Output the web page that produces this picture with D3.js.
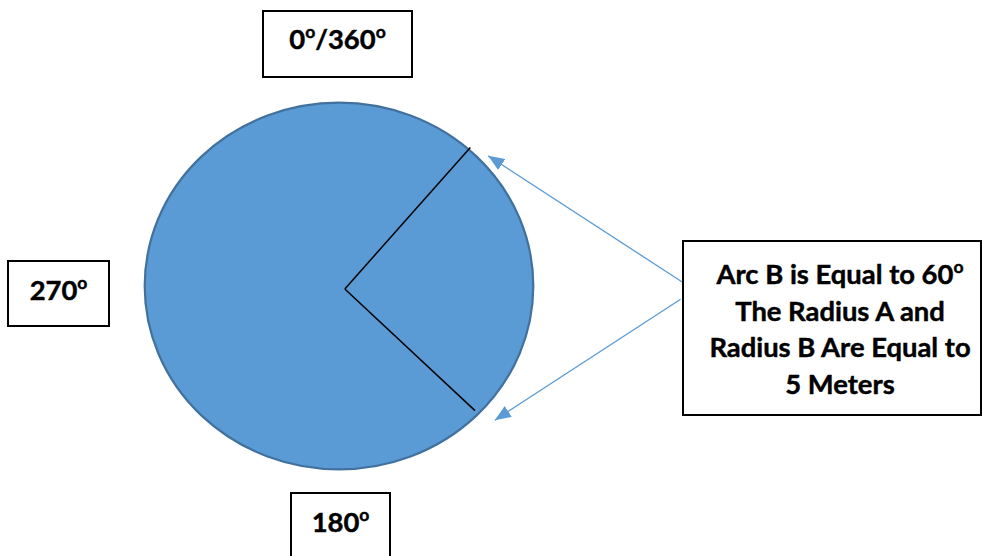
<!DOCTYPE html>
<html>
<head>
<meta charset="utf-8">
<script src="https://cdn.jsdelivr.net/npm/d3@7"></script>
<style>
  html, body { margin: 0; padding: 0; background: #ffffff; }
  svg { display: block; }
</style>
</head>
<body>
<div id="chart"></div>
<script>
// ---------- data ----------
const radiusMeters = 5;                        // circle radius (m)
const arcDegrees = 60;                         // arc B
const angleLabels = ["0°/360°", "270°", "180°"];
const noteLines = ["Arc B is Equal to 60°", "The Radius A and", "Radius B Are Equal to", "5 Meters"];
// radius segments, in metres from the circle centre
const radiusVertex = [0.15, -0.08];
const radiusEnds = [[3.38, 3.78], [3.50, -3.40]];
// pointer arrows (start near note box -> tip near arc end), metres
const arrowStarts = [[8.99, 0.0], [8.79, -0.36]];
const arrowTips = [[3.84, 3.55], [4.01, -3.66]];

// ---------- layout ----------
const W = 982, H = 556;
const cx = 339, cy = 286, rx = 194.3, ry = 183.3;
const x = d3.scaleLinear().domain([-radiusMeters, radiusMeters]).range([cx - rx, cx + rx]);
const y = d3.scaleLinear().domain([-radiusMeters, radiusMeters]).range([cy + ry, cy - ry]);

const FONT = "Lato, 'Open Sans', 'DejaVu Sans', sans-serif";
const FS = 27.4;
const blue = "#5B9BD5";

const svg = d3.select("#chart").append("svg")
  .attr("width", W).attr("height", H)
  .attr("viewBox", `0 0 ${W} ${H}`);

const defs = svg.append("defs");
defs.append("marker")
  .attr("id", "arrowhead")
  .attr("viewBox", "0 0 10 10")
  .attr("refX", 10).attr("refY", 5)
  .attr("markerUnits", "userSpaceOnUse")
  .attr("markerWidth", 16).attr("markerHeight", 13)
  .attr("preserveAspectRatio", "none")
  .attr("orient", "auto")
  .append("path")
  .attr("d", "M0,0 L10,5 L0,10 Z")
  .attr("fill", blue);

// circle (drawn as ellipse through the scales)
svg.append("ellipse")
  .attr("cx", x(0)).attr("cy", y(0))
  .attr("rx", x(radiusMeters) - x(0))
  .attr("ry", y(0) - y(radiusMeters))
  .attr("fill", blue)
  .attr("stroke", "#41719C")
  .attr("stroke-width", 2.2);

// radius A and B
svg.selectAll("line.radius")
  .data(radiusEnds)
  .join("line")
  .attr("class", "radius")
  .attr("x1", x(radiusVertex[0])).attr("y1", y(radiusVertex[1]))
  .attr("x2", d => x(d[0])).attr("y2", d => y(d[1]))
  .attr("stroke", "#000")
  .attr("stroke-width", 1.5);

// pointer arrows
svg.selectAll("line.arrow")
  .data(d3.zip(arrowStarts, arrowTips))
  .join("line")
  .attr("class", "arrow")
  .attr("x1", d => x(d[0][0])).attr("y1", d => y(d[0][1]))
  .attr("x2", d => x(d[1][0])).attr("y2", d => y(d[1][1]))
  .attr("stroke", blue)
  .attr("stroke-width", 1.3)
  .attr("marker-end", "url(#arrowhead)");

// helper: write text with "°" as a superscript "o"
function writeDeg(textSel, str) {
  const parts = str.split("°");
  const up = FS * 0.40;
  let pending = 0;
  parts.forEach((p, i) => {
    if (p.length) {
      const ts = textSel.append("tspan").text(p);
      if (pending) { ts.attr("dy", pending); pending = 0; }
    }
    if (i < parts.length - 1) {
      textSel.append("tspan")
        .attr("font-size", FS * 0.64)
        .attr("dy", -up + pending)
        .text("o");
      pending = up;
    }
  });
}

function styleText(t) {
  return t.attr("text-anchor", "middle")
    .attr("font-family", FONT).attr("font-weight", 700).attr("font-size", FS)
    .attr("fill", "#000")
    .attr("stroke", "#000").attr("stroke-width", 0.45)
    .attr("stroke-linejoin", "round");
}

// angle label boxes
const boxes = [
  { x: 263, y: 11, w: 149, h: 66, base: 48.7 },
  { x: 8, y: 261, w: 101, h: 65, base: 300 },
  { x: 291, y: 493, w: 99, h: 80, base: 531.5 }
];
angleLabels.forEach((lab, i) => {
  const b = boxes[i];
  const g = svg.append("g");
  g.append("rect")
    .attr("x", b.x).attr("y", b.y).attr("width", b.w).attr("height", b.h)
    .attr("fill", "#fff").attr("stroke", "#000").attr("stroke-width", 2);
  const t = styleText(g.append("text").attr("x", b.x + b.w / 2).attr("y", b.base));
  writeDeg(t, lab);
});

// note box
const note = svg.append("g");
note.append("rect")
  .attr("x", 683).attr("y", 241).attr("width", 298).attr("height", 174)
  .attr("fill", "#fff").attr("stroke", "#000").attr("stroke-width", 2);
const noteBases = [284, 320.7, 357.4, 394];
noteLines.forEach((ln, i) => {
  const t = styleText(note.append("text").attr("x", 840).attr("y", noteBases[i]));
  writeDeg(t, ln);
});
</script>
</body>
</html>
